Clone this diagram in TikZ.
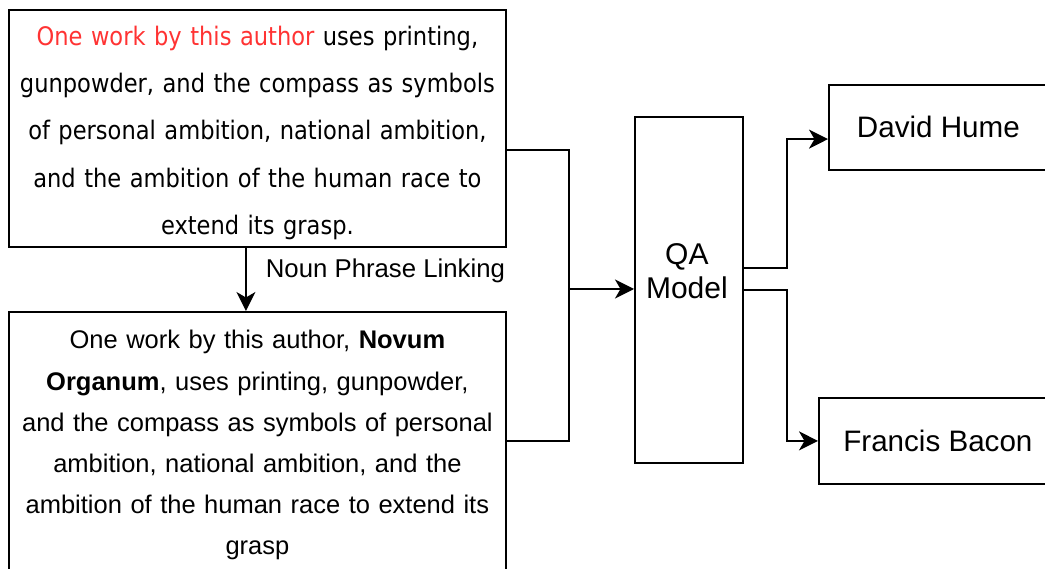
\documentclass[tikz,border=0pt]{standalone}
\usepackage{fontspec}
\setmainfont{Liberation Sans}
\newfontfamily\tahomaish{DejaVu Sans}[FakeStretch=0.885]
\usetikzlibrary{arrows.meta,calc}
\definecolor{hlred}{RGB}{255,51,51}
\begin{document}
\begin{tikzpicture}[x=1pt,y=-1pt,line width=1.8pt,
  box/.style={draw,rectangle,inner sep=0pt,anchor=north west,align=center},
  boxtext/.style={align=center,inner sep=0pt,text width=490pt},
  arr/.style={-{Stealth[length=19pt,width=19pt,inset=5.5pt]}}]
\clip (0,0) rectangle (1045,569);
\fill[white] (0,0) rectangle (1045,569);
\node[box,minimum width=497pt,minimum height=237pt,
  label={[boxtext,yshift=-4.5pt,font=\tahomaish\fontsize{25.5}{47.3}\selectfont]center:%
   \textcolor{hlred}{One work by this author} uses printing,\\
   gunpowder, and the compass as symbols\\
   of personal ambition, national ambition,\\
   and the ambition of the human race to\\
   extend its grasp.}] (b1) at (8,9) {};
\node[box,minimum width=497pt,minimum height=264pt,
  label={[boxtext,yshift=-1.5pt,font=\fontsize{25.5}{41.2}\selectfont]center:%
   One work by this author, \textbf{Novum}\\
   \textbf{Organum}, uses printing, gunpowder,\\
   and the compass as symbols of personal\\
   ambition, national ambition, and the\\
   ambition of the human race to extend its\\
   grasp}] (b2) at (8,311) {};
\node[box,minimum width=108pt,minimum height=346pt,
  label={[align=center,inner sep=0pt,yshift=19pt,xshift=-2pt,font=\fontsize{30}{34}\selectfont]center:QA\\Model}] (qa) at (634,116) {};
\node[box,minimum width=219pt,minimum height=85pt,
  font=\fontsize{29.6}{34}\selectfont] (dh) at (828,84) {David Hume};
\node[box,minimum width=238pt,minimum height=86pt,
  font=\fontsize{29.6}{34}\selectfont] (fb) at (818,397) {Francis Bacon};
\coordinate (d1) at ($(b1.south west)!0.477!(b1.south east)$);
\draw[arr] (d1) -- (d1 |- b2.north);
\node[anchor=west,inner sep=0pt,font=\fontsize{25.75}{30}\selectfont] (lbl) at (265,271) {Noun Phrase Linking};
\coordinate (j) at (569,289);
\draw ($(b1.north east)!0.59!(b1.south east)$) -| (j);
\draw ($(b2.north east)!0.4886!(b2.south east)$) -| (j);
\draw[arr] (j) -- (j -| qa.west);
\coordinate (s1) at ($(qa.north east)!0.436!(qa.south east)$);
\coordinate (dhin) at ($(dh.north west)!0.635!(dh.south west)$);
\draw[arr] (s1) -- ++(43,0) |- (dhin);
\draw[arr] (qa.east) -- ++(43,0) |- (fb.west);
\end{tikzpicture}
\end{document}
